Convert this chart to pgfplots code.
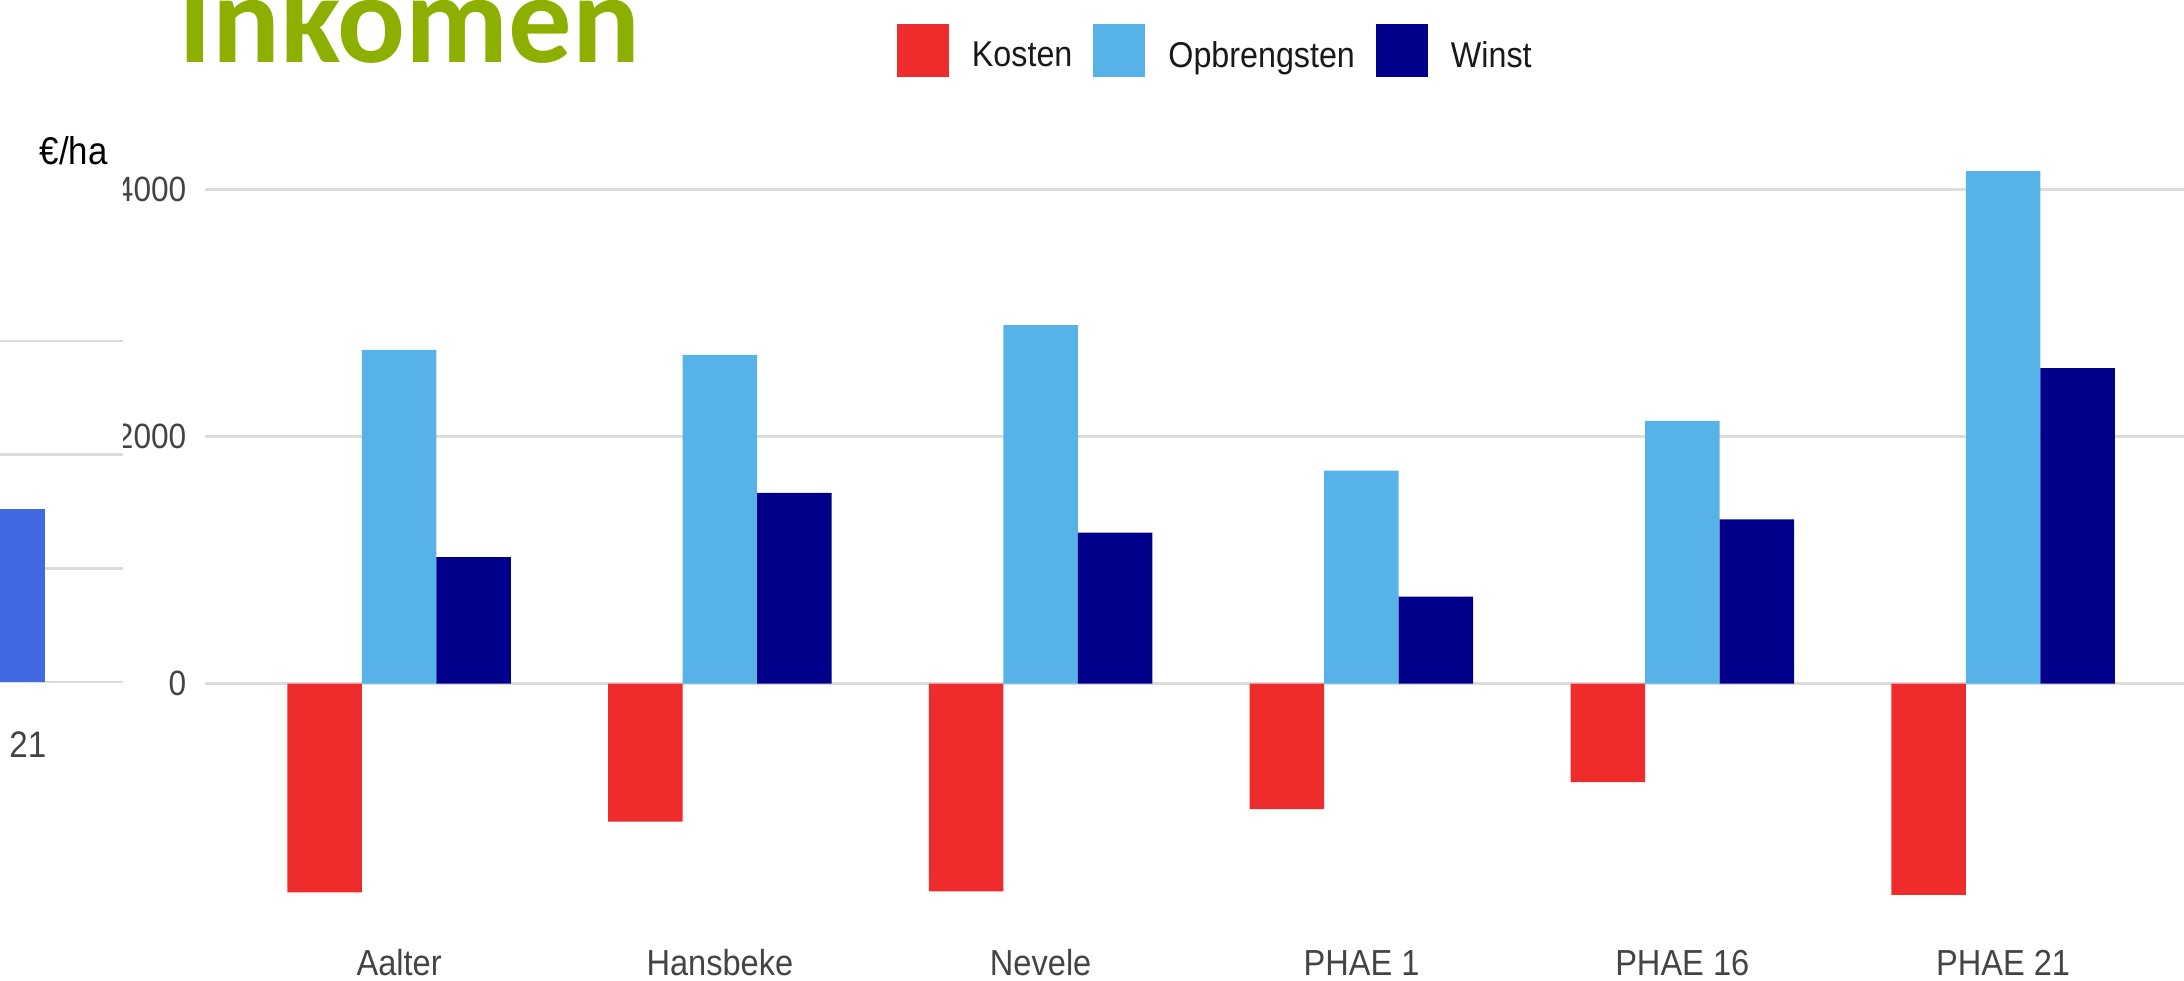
\documentclass[border=0pt]{standalone}
\usepackage{pgfplots}
\pgfplotsset{compat=1.18}
\usepackage{fontspec}
\setmainfont{Liberation Sans}[FakeStretch=0.9]
\newfontfamily\titlefont{Carlito}
\definecolor{kred}{HTML}{EE2C2C}
\definecolor{kblue}{HTML}{57B3E7}
\definecolor{knavy}{HTML}{00008B}
\definecolor{fblue}{HTML}{4169E1}
\definecolor{gridc}{HTML}{DCDCDC}
\definecolor{titlegreen}{HTML}{8DB000}
\definecolor{lblc}{HTML}{444444}
\begin{document}
\begin{tikzpicture}
\useasboundingbox (0,0) rectangle (21.84,-9.8);
\clip (0,0) rectangle (21.84,-9.8);
% main chart
\begin{axis}[
  at={(2.05cm,-9.307cm)}, anchor=south west,
  scale only axis, width=19.79cm, height=7.91cm,
  xmin=-0.605, xmax=5.564, ymin=-2000, ymax=4400,
  axis line style={draw=none}, major tick length=0pt,
  ytick={0,2000,4000}, ymajorgrids, grid style={gridc, line width=0.8pt},
  xtick={0,1,2,3,4,5},
  xticklabels={Aalter,Hansbeke,Nevele,PHAE 1,PHAE 16,PHAE 21},
  xticklabel style={anchor=base, yshift=-0.45cm, inner sep=0pt, text=lblc, font=\fontsize{10.3}{12}\selectfont},
  yticklabel style={anchor=east, inner sep=0pt, xshift=-0.18cm, text=lblc, font=\fontsize{10}{12}\selectfont},
  /pgf/number format/assume math mode=true,
  /pgf/number format/1000 sep={},
  ybar, bar width=0.745cm,
  legend image code/.code={\fill[#1] (0cm,-0.2cm) rectangle (0.52cm,0.33cm);},
  clip=false,
  legend columns=3, legend cell align=left,
  legend style={at={(axis cs:1.552,5336)}, anchor=north west, draw=none, fill=none,
    inner sep=0pt, outer sep=0pt, font=\fontsize{10.2}{12}\selectfont, text=black!90,
    nodes={inner sep=0pt},
    /tikz/every odd column/.append style={column sep=0.23cm},
    /tikz/every even column/.append style={column sep=0.21cm}},
]
\addplot[fill=kred, draw=none, bar shift=-0.745cm] coordinates {(0,-1690) (1,-1117) (2,-1682) (3,-1016) (4,-797) (5,-1710)};
\addlegendentry{Kosten}
\addplot[fill=kblue, draw=none, bar shift=0cm] coordinates {(0,2700) (1,2660) (2,2900) (3,1723) (4,2125) (5,4145)};
\addlegendentry{Opbrengsten}
\addplot[fill=knavy, draw=none, bar shift=0.745cm] coordinates {(0,1022) (1,1543) (2,1222) (3,704) (4,1328) (5,2552)};
\addlegendentry{Winst}
\end{axis}
% fragment of a neighbouring chart on the left
\begin{axis}[
  at={(0cm,-6.82cm)}, anchor=south west,
  scale only axis, width=1.23cm, height=5.12cm,
  xmin=0.20, xmax=1.43, ymin=0, ymax=4503,
  axis background/.style={fill=white},
  axis line style={draw=none}, major tick length=0pt,
  ytick={0,1000,2000,3000}, yticklabels={},
  ymajorgrids, grid style={gridc, line width=0.8pt},
  xtick=\empty,
  ybar, bar width=1.3, clip=false,
]
\addplot[fill=fblue, draw=none, bar shift=0] coordinates {(0,1522)};
\node[anchor=base, inner sep=0pt, text=lblc, font=\fontsize{10.5}{12}\selectfont, yshift=-0.75cm] at (axis cs:-0.02,0) {PHAE 21};
\end{axis}
\node[anchor=base west, inner sep=0pt, font=\fontsize{11}{12}\selectfont] at (0.39,-1.64) {€/ha};
\node[anchor=base west, inner sep=0pt, text=titlegreen, font=\titlefont\bfseries\fontsize{36}{36}\selectfont] at (1.78,-0.62) {Inkomen};
\end{tikzpicture}
\end{document}
